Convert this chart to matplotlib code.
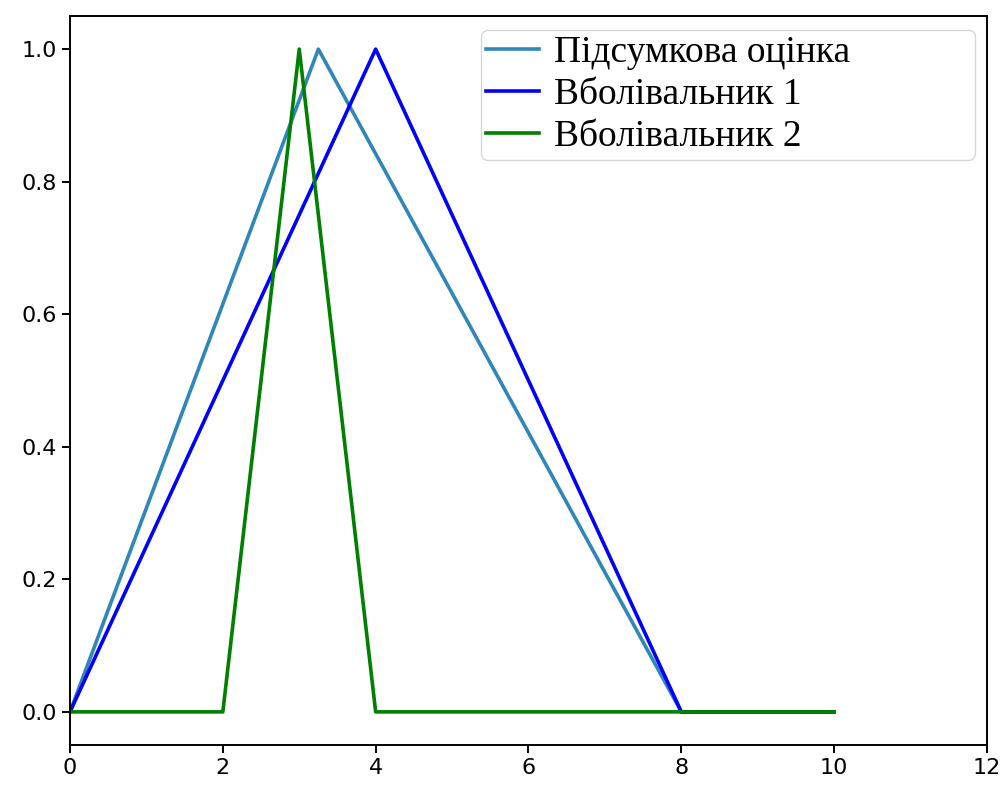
import numpy as np
from matplotlib import pyplot as plt

# membership functions (triangular), x-points and y-values
x_total = [0, 3.25, 8, 10]
y_total = [0, 1, 0, 0]

x_exp1 = [0, 4, 8, 10]
y_exp1 = [0, 1, 0, 0]

x_exp2 = [0, 2, 3, 4, 10]
y_exp2 = [0, 0, 1, 0, 0]

labels = ['Підсумкова оцінка', 'Вболівальник 1', 'Вболівальник 2']

fig = plt.figure(figsize=(10.04, 7.87), dpi=100)
ax = fig.add_axes([70 / 1004, 1 - 745 / 787, 917 / 1004, 729 / 787])

ax.plot(x_total, y_total, color='#2f86b9', lw=2.6, label=labels[0])
ax.plot(x_exp1, y_exp1, color='blue', lw=2.6, label=labels[1])
ax.plot(x_exp2, y_exp2, color='green', lw=2.6, label=labels[2])

ax.set_xlim(0, 12)
ax.set_ylim(-0.05, 1.05)
ax.set_xticks(np.arange(0, 13, 2))
ax.set_yticks([0.0, 0.2, 0.4, 0.6, 0.8, 1.0])
ax.tick_params(labelsize=16, length=6, width=1.4)
for s in ax.spines.values():
    s.set_linewidth(1.4)

# legend box stretched wider than its text, as in the original
ax.legend(loc='upper right', bbox_to_anchor=(0.448, 0.800, 0.539, 0.181),
          mode='expand', borderaxespad=0,
          prop={'family': 'Liberation Serif', 'size': 27},
          handlelength=1.4, handletextpad=0.4, labelspacing=0.2,
          borderpad=0.15, fancybox=True)

fig.savefig('out.png', dpi=100)
